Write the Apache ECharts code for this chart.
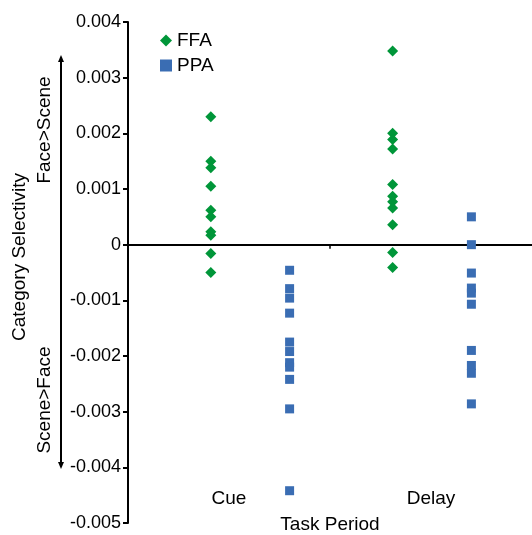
<!DOCTYPE html>
<html>
<head>
<meta charset="utf-8">
<script src="https://cdn.jsdelivr.net/npm/echarts@6/dist/echarts.min.js"></script>
<style>
  html, body { margin: 0; padding: 0; background: #fff; }
  #main { width: 532px; height: 535px; }
</style>
</head>
<body>
<div id="main"></div>
<script>
// values
const periods = ['Cue', 'Delay'];
const cueFFA = [0.0023, 0.0015, 0.00138, 0.00105, 0.00062, 0.0005, 0.00023, 0.00017, -0.00016, -0.0005];
const cuePPA = [-0.00046, -0.00079, -0.00096, -0.00123, -0.00175, -0.00192, -0.00212, -0.0022, -0.00242, -0.00295, -0.00442];
const delayFFA = [0.00348, 0.002, 0.00189, 0.00172, 0.00108, 0.00087, 0.00077, 0.00066, 0.00036, -0.00014, -0.00041];
const delayPPA = [0.0005, 0.0, -0.00051, -0.00078, -0.00087, -0.00107, -0.0019, -0.00217, -0.00231, -0.00286];
const yTicks = { min: -0.005, max: 0.004, step: 0.001 };

const ffaColor = '#009639';
const ppaColor = '#3a6db3';
const font = 'Liberation Sans, Arial, sans-serif';

// horizontal placement of each group inside the 0..2 period axis
const xPos = { cueFFA: 0.41, cuePPA: 0.80, delayFFA: 1.31, delayPPA: 1.70 };
const pts = (x, arr) => arr.map(v => [x, v]);

const chart = echarts.init(document.getElementById('main'));

chart.setOption({
  animation: false,
  textStyle: { fontFamily: font, color: '#000' },
  grid: { left: 128, right: 0, top: 22, bottom: 12, outerBoundsMode: 'none', containLabel: false },
  legend: {
    orient: 'vertical',
    left: 155,
    top: 26,
    itemWidth: 12,
    itemHeight: 12,
    itemGap: 6,
    textStyle: { fontSize: 19, color: '#000', fontFamily: font },
    data: [
      { name: 'FFA', icon: 'diamond' },
      { name: 'PPA', icon: 'rect' }
    ]
  },
  xAxis: [
    {
      type: 'value',
      min: 0,
      max: 2,
      interval: 1,
      axisLine: { onZero: true, lineStyle: { color: '#000', width: 2 } },
      axisTick: { show: true, customValues: [1], length: 4, lineStyle: { color: '#000', width: 1.5 } },
      axisLabel: { show: false },
      splitLine: { show: false }
    },
    {
      type: 'category',
      data: periods,
      position: 'bottom',
      offset: -36,
      axisLine: { show: false },
      axisTick: { show: false },
      axisLabel: { fontSize: 19, color: '#000', margin: 2, fontFamily: font },
      name: 'Task Period',
      nameLocation: 'middle',
      nameGap: 28,
      nameTextStyle: { fontSize: 19, color: '#000', fontFamily: font }
    }
  ],
  yAxis: {
    type: 'value',
    min: yTicks.min,
    max: yTicks.max,
    interval: yTicks.step,
    axisLine: { show: true, lineStyle: { color: '#000', width: 2 } },
    axisTick: { show: true, length: 5, lineStyle: { color: '#000', width: 2 } },
    axisLabel: {
      fontSize: 18,
      color: '#000',
      margin: 7,
      fontFamily: font,
      formatter: v => (Math.abs(v) < 1e-9 ? '0' : v.toFixed(3))
    },
    splitLine: { show: false }
  },
  series: [
    {
      name: 'FFA',
      type: 'scatter',
      symbol: 'diamond',
      symbolSize: 11,
      itemStyle: { color: ffaColor, opacity: 1 },
      data: pts(xPos.cueFFA, cueFFA).concat(pts(xPos.delayFFA, delayFFA))
    },
    {
      name: 'PPA',
      type: 'scatter',
      symbol: 'rect',
      symbolSize: 9,
      itemStyle: { color: ppaColor, opacity: 1 },
      data: pts(xPos.cuePPA, cuePPA).concat(pts(xPos.delayPPA, delayPPA))
    }
  ],
  graphic: [
    {
      type: 'text',
      x: 20, y: 257, rotation: Math.PI / 2,
      style: { text: 'Category Selectivity', font: '19px ' + font, fill: '#000', align: 'center', verticalAlign: 'middle' }
    },
    {
      type: 'text',
      x: 45, y: 130, rotation: Math.PI / 2,
      style: { text: 'Face>Scene', font: '19px ' + font, fill: '#000', align: 'center', verticalAlign: 'middle' }
    },
    {
      type: 'text',
      x: 45, y: 400, rotation: Math.PI / 2,
      style: { text: 'Scene>Face', font: '19px ' + font, fill: '#000', align: 'center', verticalAlign: 'middle' }
    },
    {
      type: 'line',
      shape: { x1: 61, y1: 60, x2: 61, y2: 464 },
      style: { stroke: '#000', lineWidth: 2 }
    },
    {
      type: 'polygon',
      shape: { points: [[61, 55], [58, 62], [64, 62]] },
      style: { fill: '#000' }
    },
    {
      type: 'polygon',
      shape: { points: [[61, 469], [58, 462], [64, 462]] },
      style: { fill: '#000' }
    }
  ]
});
</script>
</body>
</html>
